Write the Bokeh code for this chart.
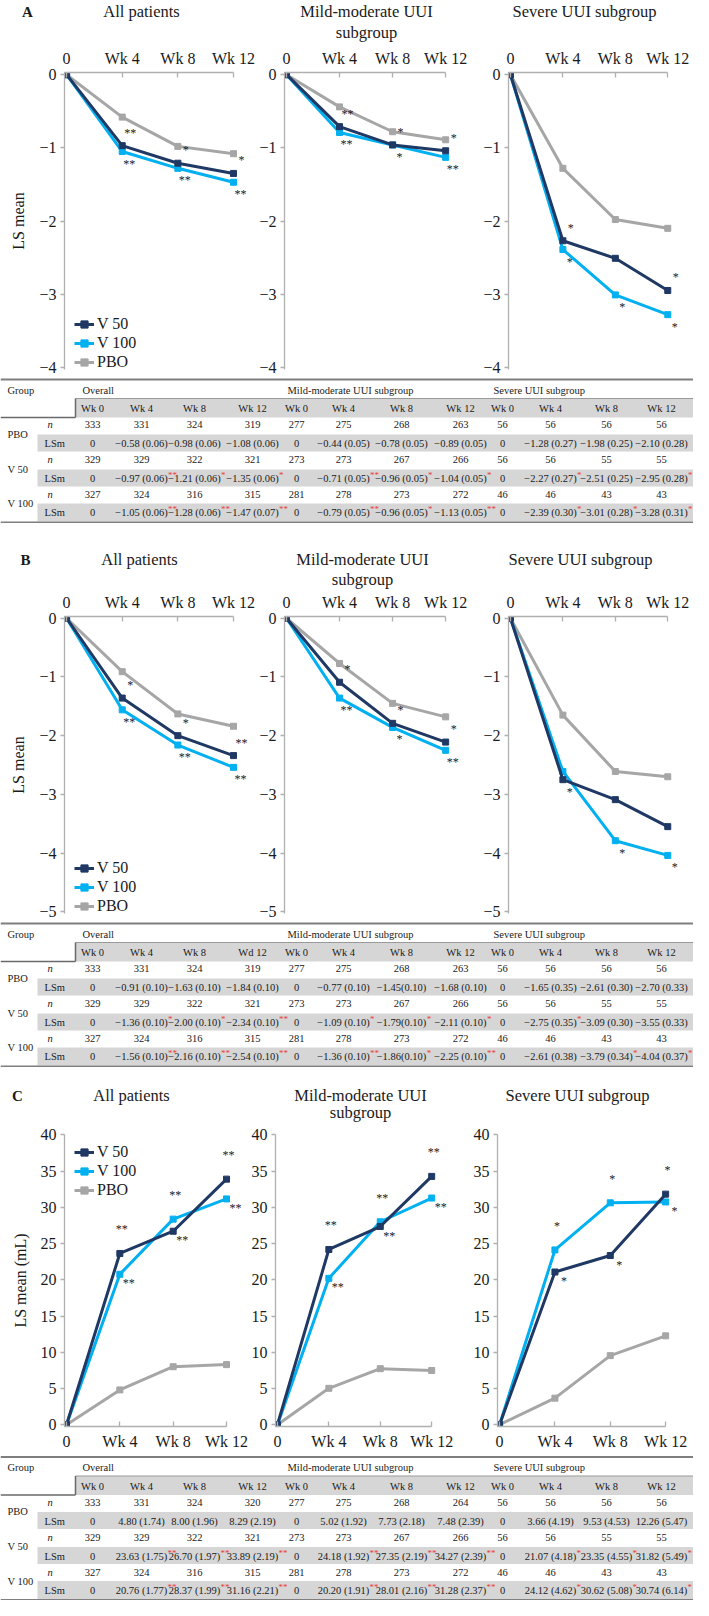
from bokeh.plotting import figure
from bokeh.models import (Range1d, FixedTicker, CustomJSTickFormatter, Legend, LegendItem,
                          ColumnDataSource, LabelSet)
from bokeh.layouts import column, row
from bokeh.embed import file_html
from bokeh.resources import INLINE
from bokeh.core.properties import value

# ---------------- data ----------------
WEEKS = [0, 4, 8, 12]
SUBGROUP_TITLES = ["All patients", "Mild-moderate UUI", "Severe UUI subgroup"]
TABLE_SUBGROUPS = ["Overall", "Mild-moderate  UUI subgroup", "Severe UUI subgroup"]
WK_HEAD = ["Wk 0", "Wk 4", "Wk 8", "Wk 12"] * 3
WK_HEAD_B = ["Wk 0", "Wk 4", "Wk 8", "Wd 12"] + ["Wk 0", "Wk 4", "Wk 8", "Wk 12"] * 2
GROUPS = ["PBO", "V 50", "V 100"]

# LS means: Overall (wk0..12), Mild-moderate (wk0..12), Severe (wk0..12)
A_PBO = [0, -0.58, -0.98, -1.08, 0, -0.44, -0.78, -0.89, 0, -1.28, -1.98, -2.10]
A_V50 = [0, -0.97, -1.21, -1.35, 0, -0.71, -0.96, -1.04, 0, -2.27, -2.51, -2.95]
A_V100 = [0, -1.05, -1.28, -1.47, 0, -0.79, -0.96, -1.13, 0, -2.39, -3.01, -3.28]
A_PBO_SE = [None, 0.06, 0.06, 0.06, None, 0.05, 0.05, 0.05, None, 0.27, 0.25, 0.28]
A_V50_SE = [None, 0.06, 0.06, 0.06, None, 0.05, 0.05, 0.05, None, 0.27, 0.25, 0.28]
A_V100_SE = [None, 0.06, 0.06, 0.07, None, 0.05, 0.05, 0.05, None, 0.30, 0.28, 0.31]
A_V50_SIG = ["", "**", "*", "*", "", "**", "*", "*", "", "*", "", "*"]
A_V100_SIG = ["", "**", "**", "**", "", "**", "*", "**", "", "*", "*", "*"]

B_PBO = [0, -0.91, -1.63, -1.84, 0, -0.77, -1.45, -1.68, 0, -1.65, -2.61, -2.70]
B_V50 = [0, -1.36, -2.00, -2.34, 0, -1.09, -1.79, -2.11, 0, -2.75, -3.09, -3.55]
B_V100 = [0, -1.56, -2.16, -2.54, 0, -1.36, -1.86, -2.25, 0, -2.61, -3.79, -4.04]
B_PBO_SE = [None, 0.10, 0.10, 0.10, None, 0.10, 0.10, 0.10, None, 0.35, 0.30, 0.33]
B_V50_SE = [None, 0.10, 0.10, 0.10, None, 0.10, 0.10, 0.10, None, 0.35, 0.30, 0.33]
B_V100_SE = [None, 0.10, 0.10, 0.10, None, 0.10, 0.10, 0.10, None, 0.38, 0.34, 0.37]
B_V50_SIG = ["", "*", "*", "**", "", "*", "*", "*", "", "*", "", ""]
B_V100_SIG = ["", "**", "**", "**", "", "**", "*", "**", "", "", "*", "*"]
B_NOSPACE = [6]

C_PBO = [0, 4.80, 8.00, 8.29, 0, 5.02, 7.73, 7.48, 0, 3.66, 9.53, 12.26]
C_V50 = [0, 23.63, 26.70, 33.89, 0, 24.18, 27.35, 34.27, 0, 21.07, 23.35, 31.82]
C_V100 = [0, 20.76, 28.37, 31.16, 0, 20.20, 28.01, 31.28, 0, 24.12, 30.62, 30.74]
C_PBO_SE = [None, 1.74, 1.96, 2.19, None, 1.92, 2.18, 2.39, None, 4.19, 4.53, 5.47]
C_V50_SE = [None, 1.75, 1.97, 2.19, None, 1.92, 2.19, 2.39, None, 4.18, 4.55, 5.49]
C_V100_SE = [None, 1.77, 1.99, 2.21, None, 1.91, 2.16, 2.37, None, 4.62, 5.08, 6.14]
C_V50_SIG = ["", "**", "**", "**", "", "**", "**", "**", "", "*", "*", "*"]
C_V100_SIG = ["", "**", "**", "**", "", "**", "**", "**", "", "*", "*", "*"]

N_PBO = [333, 331, 324, 319, 277, 275, 268, 263, 56, 56, 56, 56]
N_PBO_C = [333, 331, 324, 320, 277, 275, 268, 264, 56, 56, 56, 56]
N_V50 = [329, 329, 322, 321, 273, 273, 267, 266, 56, 56, 55, 55]
N_V100 = [327, 324, 316, 315, 281, 278, 273, 272, 46, 46, 43, 43]

# ---------------- style ----------------
SERIF = "Liberation Serif"
NAVY, SKY, GREY = "#1F3864", "#00B0F0", "#A6A6A6"
AXIS = "#B0B0B0"
INK = "#1A1A1A"
BAND = "#D6D6D6"
RED = "#EE3B3B"
PAGE_W = 693
X0 = -0.15
COLS = [92, 141, 194, 252, 296, 343, 401, 460, 502, 550, 606, 661]
CW = {c: 0.5 for c in "0123456789"}
CW.update({".": 0.25, "(": 0.333, ")": 0.333, " ": 0.25, "\u2212": 0.564})


def text_w(s, px):
    return sum(CW.get(c, 0.5) for c in s) * px


def blank(h):
    p = figure(width=PAGE_W, height=h, x_range=Range1d(0, PAGE_W), y_range=Range1d(h, 0),
               x_axis_type=None, y_axis_type=None, output_backend="svg",
               toolbar_location=None, tools="", min_border=0)
    p.outline_line_color = None
    return p


def make_header(h, letter, lx, ty, sy, tx):
    p = blank(h)
    p.text(x=[lx], y=[ty], text=[letter], text_font=value(SERIF), text_font_size="15px",
           text_font_style="bold", text_align="center", text_baseline="middle", text_color=INK)
    p.text(x=[tx[0], tx[1], tx[1], tx[2]], y=[ty, ty, sy, ty],
           text=[SUBGROUP_TITLES[0], SUBGROUP_TITLES[1], "subgroup", SUBGROUP_TITLES[2]],
           text_font=value(SERIF), text_font_size="16.5px", text_align="center",
           text_baseline="middle", text_color=INK)
    return p


def make_panel(w, h, left, x12, top, bottom, yr, yticks, xloc, pbo, v50, v100, s50, s100,
               up, dn, ylabel=None, legend_vy=None):
    right = 2
    ppu = (x12 - left) / (12 - X0)
    x_end = 12 + (w - right - x12) / ppu
    p = figure(width=w, height=h, x_range=Range1d(X0, x_end), y_range=Range1d(*yr),
               x_axis_location=xloc, output_backend="svg", toolbar_location=None, tools="",
               min_border_left=left, min_border_right=right, min_border_top=top,
               min_border_bottom=bottom)
    p.outline_line_color = None
    p.xgrid.visible = False
    p.ygrid.visible = False
    xa, ya = p.xaxis[0], p.yaxis[0]
    for ax in (xa, ya):
        ax.axis_line_color = AXIS
        ax.axis_line_width = 1.3
        ax.major_tick_line_color = AXIS
        ax.major_tick_line_width = 1.3
        ax.minor_tick_line_color = None
        ax.major_label_text_font = SERIF
        ax.major_label_text_font_size = "16px"
        ax.major_label_text_color = INK
    xa.bounds = (X0, 12)
    xa.ticker = FixedTicker(ticks=WEEKS, minor_ticks=[])
    xa.formatter = CustomJSTickFormatter(code="return tick == 0 ? '0' : 'Wk ' + tick;")
    xa.major_tick_in = 5
    xa.major_tick_out = 0
    xa.major_label_standoff = 6
    ya.ticker = FixedTicker(ticks=yticks, minor_ticks=[])
    ya.formatter = CustomJSTickFormatter(
        code="return tick < 0 ? '\u2212' + (-tick) : String(tick);")
    ya.major_tick_in = 0
    ya.major_tick_out = 4
    ya.major_label_standoff = 4
    if ylabel:
        ya.axis_label = ylabel
        ya.axis_label_text_font = SERIF
        ya.axis_label_text_font_size = "16px"
        ya.axis_label_text_font_style = "normal"
        ya.axis_label_text_color = INK
        ya.axis_label_standoff = 9
    rends = {}
    for name, vals, col in (("PBO", pbo, GREY), ("V 100", v100, SKY), ("V 50", v50, NAVY)):
        src = ColumnDataSource(dict(x=WEEKS, y=vals))
        l = p.line("x", "y", source=src, line_color=col, line_width=3)
        m = p.scatter("x", "y", source=src, marker="square", size=6, fill_color=col,
                      line_color=col)
        rends[name] = [l, m]
    # significance asterisks
    fh = h - top - bottom
    kx = 1.0 / ppu
    ky = (yr[1] - yr[0]) / fh
    sx, sy, st = [], [], []
    for i in range(1, 4):
        upper50 = v50[i] >= v100[i]
        for vals, sig, is_up in ((v50, s50, upper50), (v100, s100, not upper50)):
            if sig[i]:
                dx, dy = up if is_up else dn
                sx.append(WEEKS[i] + dx * kx)
                sy.append(vals[i] + dy * ky)
                st.append(sig[i])
    p.add_layout(LabelSet(x="x", y="y", text="t", source=ColumnDataSource(dict(x=sx, y=sy, t=st)),
                          text_font=value(SERIF), text_font_size="12px", text_align="center",
                          text_baseline="middle", text_color=INK))
    if legend_vy is not None:
        leg = Legend(items=[LegendItem(label=k, renderers=rends[k]) for k in ("V 50", "V 100", "PBO")],
                     location=(10, legend_vy), orientation="vertical", border_line_color=None,
                     background_fill_alpha=0, padding=0, margin=0, spacing=1, glyph_width=20,
                     glyph_height=18, label_height=18, label_standoff=3,
                     label_text_font=SERIF, label_text_font_size="16px", label_text_color=INK)
        p.add_layout(leg)
    return p


def charts_row(h, top, bottom, widths, lefts, x12s, yr, yticks, xloc, pbo, v50, v100, s50, s100,
               up, dn, ylabel, legend_vy):
    figs = []
    for k in range(3):
        sl = slice(4 * k, 4 * k + 4)
        figs.append(make_panel(widths[k], h, lefts[k], x12s[k], top, bottom, yr, yticks, xloc,
                               pbo[sl], v50[sl], v100[sl], s50[sl], s100[sl], up, dn,
                               ylabel=ylabel if k == 0 else None,
                               legend_vy=legend_vy if k == 0 else None))
    return row(*figs)


def fmt_lsm(v, se, sep):
    if se is None:
        return "0"
    return f"{v:.2f}".replace("-", "\u2212") + sep + f"({se:.2f})"


def make_table(h, T, wk_heads, n_rows, lsm_rows, se_rows, sig_rows, nospace=()):
    p = blank(h)
    FS = 10.5
    p.quad(left=[75, 37, 37, 37], right=[PAGE_W] * 4,
           top=[T + 19, T + 55, T + 90, T + 124], bottom=[T + 38, T + 72, T + 107, T + 142],
           fill_color=BAND, line_color=None)
    p.segment(x0=[0, 0], y0=[T, T + 143], x1=[PAGE_W, PAGE_W], y1=[T, T + 143],
              line_color="#7F7F7F", line_width=2.2)
    p.segment(x0=[75], y0=[T + 19], x1=[PAGE_W], y1=[T + 19], line_color="#9A9A9A", line_width=1.2)
    p.segment(x0=[0, 75], y0=[T + 38, T + 19], x1=[75, 75], y1=[T + 38, T + 38],
              line_color="#6A6A6A", line_width=1.5)
    tx, ty, tt, ta = [], [], [], []

    def add(x, y, t, a="center"):
        tx.append(x); ty.append(y); tt.append(t); ta.append(a)

    add(7, T + 10.5, "Group", "left")
    for x, t in zip([82, 287, 493], TABLE_SUBGROUPS):
        add(x, T + 10.5, t, "left")
    for x, t in zip(COLS, wk_heads):
        add(x, T + 29, t)
    star_x, star_y, star_t = [], [], []
    for g, name in enumerate(GROUPS):
        yn, yl = T + 45 + 35 * g, T + 64 + 35 * g - (1 if g == 2 else 0)
        add(7, (yn + yl) / 2, name, "left")
        add(44, yl, "LSm", "left")
        for j in range(12):
            add(COLS[j], yn, str(n_rows[g][j]))
            s = fmt_lsm(lsm_rows[g][j], se_rows[g][j], "" if j in nospace else " ")
            add(COLS[j], yl, s)
            if sig_rows[g] is not None and sig_rows[g][j]:
                star_x.append(COLS[j] + text_w(s, FS) / 2 + 0.3)
                star_y.append(yl - 3.5)
                star_t.append(sig_rows[g][j])
    p.text(x=tx, y=ty, text=tt, text_align=ta, text_font=value(SERIF),
           text_font_size=f"{FS}px", text_baseline="middle", text_color=INK)
    p.text(x=[47, 47, 47], y=[T + 45, T + 80, T + 115], text=["n", "n", "n"],
           text_font=value(SERIF), text_font_size=f"{FS}px", text_font_style="italic",
           text_baseline="middle", text_align="left", text_color=INK)
    p.text(x=star_x, y=star_y, text=star_t, text_font=value(SERIF), text_font_size="9px",
           text_align="left", text_baseline="middle", text_color=RED)
    return p


TX = [141, 366, 584]
AB_W, AB_L, AB_X12 = [256, 224, 213], [64, 27, 26], [233, 189, 187]
C_W, C_L, C_X12 = [248, 222, 223], [64, 26, 26], [226, 183, 195]

headA = make_header(44, "A", 27, 11, 32, TX)
rowA = charts_row(332, 28, 7, AB_W, AB_L, AB_X12, (-4.03, 0.03), [0, -1, -2, -3, -4], "above",
                  A_PBO, A_V50, A_V100, A_V50_SIG, A_V100_SIG, (8, 13), (7, -12), "LS mean", -2)
tabA = make_table(147, 3, WK_HEAD, [N_PBO, N_V50, N_V100], [A_PBO, A_V50, A_V100],
                  [A_PBO_SE, A_V50_SE, A_V100_SE], [None, A_V50_SIG, A_V100_SIG])

headB = make_header(67, "B", 25, 36, 56, [139, 362, 580])
rowB = charts_row(330, 26, 7, AB_W, AB_L, AB_X12, (-5.03, 0.03), [0, -1, -2, -3, -4, -5], "above",
                  B_PBO, B_V50, B_V100, B_V50_SIG, B_V100_SIG, (8, 13), (7, -12), "LS mean", -2)
tabB = make_table(147, 3, WK_HEAD_B, [N_PBO, N_V50, N_V100], [B_PBO, B_V50, B_V100],
                  [B_PBO_SE, B_V50_SE, B_V100_SE], [None, B_V50_SIG, B_V100_SIG], B_NOSPACE)

headC = make_header(56, "C", 17, 28, 45, [131, 360, 577])
rowC = charts_row(332, 11, 29, C_W, C_L, C_X12, (-0.25, 40.05), [0, 5, 10, 15, 20, 25, 30, 35, 40],
                  "below", C_PBO, C_V50, C_V100, C_V50_SIG, C_V100_SIG, (2, 24), (9, -9),
                  "LS mean (mL)", 292 - 9 - 56)
tabC = make_table(145, 1.5, WK_HEAD, [N_PBO_C, N_V50, N_V100], [C_PBO, C_V50, C_V100],
                  [C_PBO_SE, C_V50_SE, C_V100_SE], [None, C_V50_SIG, C_V100_SIG])

page = column(headA, rowA, tabA, headB, rowB, tabB, headC, rowC, tabC)
open("out.html", "w").write(file_html(page, INLINE))
